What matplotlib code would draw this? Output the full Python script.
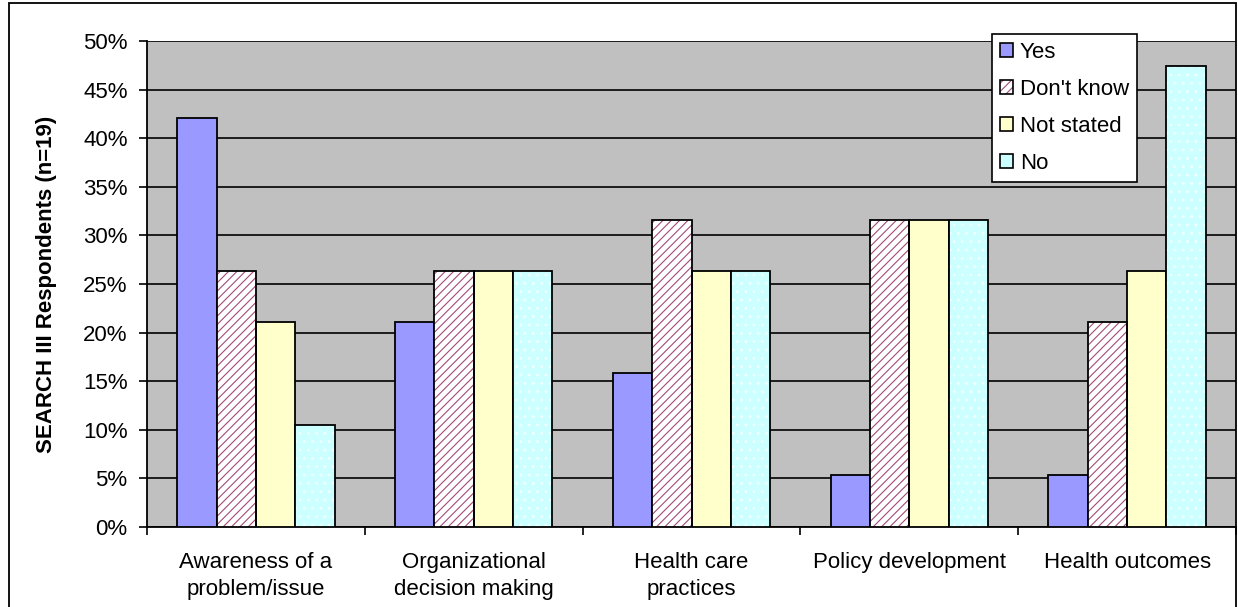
import matplotlib
matplotlib.use("Agg")
import matplotlib.pyplot as plt
import numpy as np
from matplotlib.patches import Patch, Rectangle

plt.rcParams['font.family'] = ['Liberation Sans', 'DejaVu Sans']
plt.rcParams['hatch.linewidth'] = 0.8

categories = ["Awareness of a\nproblem/issue", "Organizational\ndecision making",
              "Health care\npractices", "Policy development", "Health outcomes"]
series_names = ["Yes", "Don't know", "Not stated", "No"]
yes = [42.1, 21.1, 15.8, 5.3, 5.3]
dont_know = [26.3, 26.3, 31.6, 31.6, 21.1]
not_stated = [21.1, 26.3, 26.3, 31.6, 26.3]
no = [10.5, 26.3, 26.3, 31.6, 47.4]
yticks = [0, 5, 10, 15, 20, 25, 30, 35, 40, 45, 50]
ytick_labels = [f"{t}%" for t in yticks]

W, H = 1238, 607
fig = plt.figure(figsize=(W / 100, H / 100), dpi=100)
fig.patch.set_facecolor('white')
ax = fig.add_axes([147 / W, 1 - 527 / H, (1236 - 147) / W, (527 - 41) / H])
ax.set_facecolor('#C0C0C0')

x = np.arange(len(categories))
bw = 0.1805
offs = [-1.5 * bw, -0.5 * bw, 0.5 * bw, 1.5 * bw]
lw = 1.3
pink = '#A34A78'

ax.bar(x + offs[0], yes, bw, color='#9999FF', edgecolor='black', linewidth=lw, zorder=3)
ax.bar(x + offs[1], dont_know, bw, color='white', edgecolor=pink, hatch='////', linewidth=0, zorder=3)
ax.bar(x + offs[1], dont_know, bw, fill=False, edgecolor='black', linewidth=lw, zorder=4)
ax.bar(x + offs[2], not_stated, bw, color='#FFFFCC', edgecolor='black', linewidth=lw, zorder=3)
ax.bar(x + offs[3], no, bw, color='#CCFFFF', edgecolor='#F2FFFF', hatch='..', linewidth=0, zorder=3)
ax.bar(x + offs[3], no, bw, fill=False, edgecolor='black', linewidth=lw, zorder=4)

ax.set_xlim(-0.5, len(categories) - 0.5)
ax.set_ylim(0, 50)
ax.set_yticks(yticks)
ax.set_yticklabels(ytick_labels, fontsize=16)
ax.yaxis.grid(True, color='black', linewidth=1.2)
ax.set_axisbelow(True)

ax.set_xticks(np.arange(len(categories) + 1) - 0.5)
ax.set_xticklabels([])
ax.set_xticks(x, minor=True)
ax.set_xticklabels(categories, minor=True, fontsize=16, linespacing=1.4)
ax.tick_params(axis='x', which='major', length=6, width=1.2, direction='out')
ax.tick_params(axis='x', which='minor', length=0, pad=18)
ax.tick_params(axis='y', length=6, width=1.2, pad=8)

for s in ['top', 'right']:
    ax.spines[s].set_visible(False)
for s in ['left', 'bottom']:
    ax.spines[s].set_linewidth(1.3)
    ax.spines[s].set_color('black')

ax.set_ylabel("SEARCH III Respondents (n=19)", fontsize=16, fontweight='bold')
ax.yaxis.set_label_coords((57 - 147) / (1236 - 147), 0.5)

outline = Patch(facecolor='none', edgecolor='black', linewidth=1.2)
handles = [
    Patch(facecolor='#9999FF', edgecolor='black', linewidth=1.2),
    (Patch(facecolor='white', edgecolor=pink, hatch='////', linewidth=0), outline),
    Patch(facecolor='#FFFFCC', edgecolor='black', linewidth=1.2),
    Patch(facecolor='#CCFFFF', edgecolor='black', linewidth=1.2),
]
leg = ax.legend(handles, series_names, loc='upper left',
                bbox_to_anchor=(992 / W, 1 - 34 / H), bbox_transform=fig.transFigure,
                fontsize=16, frameon=True, fancybox=False, framealpha=1,
                edgecolor='black', handlelength=0.6, handleheight=0.6,
                handletextpad=0.3, labelspacing=0.72, borderpad=0.35,
                borderaxespad=0)
leg.get_frame().set_linewidth(1.2)
leg.set_zorder(10)

fig.patches.append(Rectangle((9 / W, -0.05), (1236 - 9) / W, 1.05 - 3 / H,
                             transform=fig.transFigure, fill=False,
                             edgecolor='black', linewidth=1.3))

fig.savefig("out.png", dpi=100)
